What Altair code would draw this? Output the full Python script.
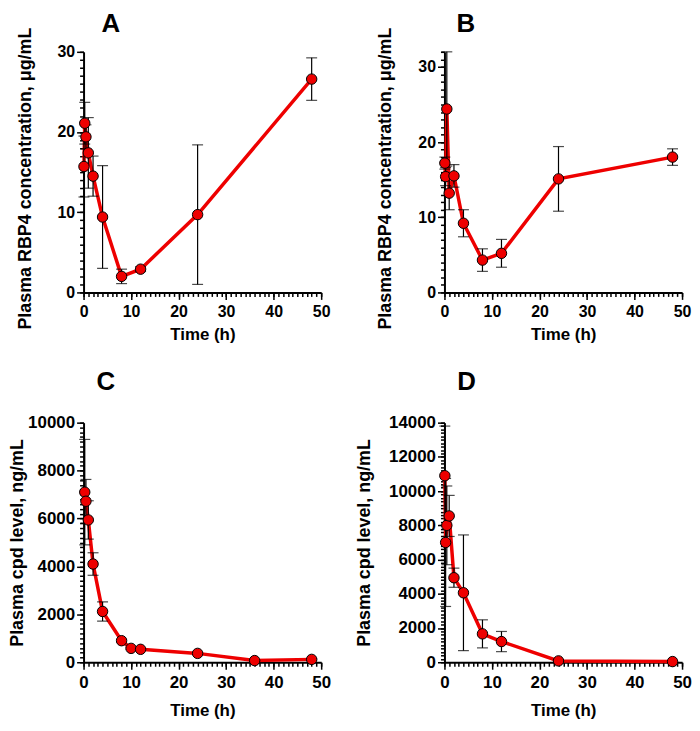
import altair as alt
import pandas as pd

RED = "#EE0000"
FONT = "Liberation Sans"

# Panel A: plasma RBP4 (ug/mL)
A_time = [0.083, 0.25, 0.5, 1, 2, 4, 8, 12, 24, 48]
A_mean = [15.7, 21.1, 19.4, 17.4, 14.5, 9.4, 2.0, 2.9, 9.7, 26.6]
A_err = [3.8, 2.6, 1.5, 4.4, 2.5, 6.4, 0.9, 0.3, 8.7, 2.65]

# Panel B: plasma RBP4 (ug/mL)
B_time = [0.083, 0.25, 0.5, 1, 2, 4, 8, 12, 24, 48]
B_mean = [17.2, 15.4, 24.4, 13.2, 15.5, 9.2, 4.3, 5.2, 15.1, 18.0]
B_err = [0.8, 1.2, 7.6, 2.2, 1.5, 1.8, 1.5, 1.85, 4.3, 1.1]

# Panel C: plasma compound level (ng/mL)
C_time = [0.25, 0.5, 1, 2, 4, 8, 10, 12, 24, 36, 48]
C_mean = [7100, 6720, 5940, 4100, 2120, 900, 580, 540, 370, 70, 120]
C_err = [2200, 910, 800, 470, 400, 60, 40, 40, 50, 20, 30]

# Panel D: plasma compound level (ng/mL)
D_time = [0.083, 0.25, 0.5, 1, 2, 4, 8, 12, 24, 48]
D_mean = [10900, 7000, 8000, 8550, 4940, 4060, 1660, 1210, 80, 40]
D_err = [2900, 3740, 2300, 1200, 560, 3380, 820, 590, 50, 20]

X_MAJOR = [0, 10, 20, 30, 40, 50]
W = 239


def panel(letter, times, means, errs, ymax, ymajor, yminor, ytitle, height,
          label_size, label_pad_x, title_pad_x, title_pad_y, ytitle_shift,
          title_dx, title_offset):
    df = pd.DataFrame({
        "t": times,
        "m": means,
        "lo": [m - e for m, e in zip(means, errs)],
        "hi": [m + e for m, e in zip(means, errs)],
    })
    xs = alt.Scale(domain=[0, 50], nice=False, zero=False)
    ys = alt.Scale(domain=[0, ymax], nice=False)
    xminor = list(range(0, 51))
    ymajor_vals = list(range(0, ymax + 1, ymajor))
    yminor_vals = list(range(0, ymax + 1, yminor))

    xaxis = alt.Axis(values=X_MAJOR, tickSize=7, labelFontSize=label_size,
                     labelPadding=label_pad_x, labelOverlap=False, labelFlush=False,
                     titleFontSize=17, titlePadding=title_pad_x, grid=False)
    yaxis = alt.Axis(values=ymajor_vals, tickSize=7, labelFontSize=label_size,
                     labelPadding=2, labelOverlap=False, labelFlush=False,
                     titleFontSize=18, titlePadding=title_pad_y,
                     titleY=height / 2 + ytitle_shift, grid=False, format="d")
    xaxis_m = alt.Axis(values=xminor, tickSize=4, labels=False, domain=False,
                       title=None, grid=False, orient="bottom")
    yaxis_m = alt.Axis(values=yminor_vals, tickSize=4, labels=False, domain=False,
                       title=None, grid=False, orient="left")

    base = alt.Chart(df)
    line = base.mark_line(color=RED, strokeWidth=3.5).encode(
        x=alt.X("t:Q", scale=xs, axis=xaxis, title="Time (h)"),
        y=alt.Y("m:Q", scale=ys, axis=yaxis, title=ytitle))
    rule = base.mark_rule(color="black", strokeWidth=1.2).encode(
        x=alt.X("t:Q", scale=xs, axis=xaxis_m),
        y=alt.Y("lo:Q", scale=ys, axis=yaxis_m), y2="hi:Q")
    cap_hi = base.mark_tick(color="black", thickness=1.2, size=11, orient="horizontal").encode(
        x=alt.X("t:Q", scale=xs, axis=None), y=alt.Y("hi:Q", scale=ys, axis=None))
    cap_lo = base.mark_tick(color="black", thickness=1.2, size=11, orient="horizontal").encode(
        x=alt.X("t:Q", scale=xs, axis=None), y=alt.Y("lo:Q", scale=ys, axis=None))
    pts = base.mark_point(shape="circle", filled=True, size=110, fill=RED, color=RED,
                          stroke="black", strokeWidth=1, opacity=1).encode(
        x=alt.X("t:Q", scale=xs, axis=None), y=alt.Y("m:Q", scale=ys, axis=None))
    return alt.layer(line, rule, cap_hi, cap_lo, pts).resolve_axis(
        x="independent", y="independent").properties(
        width=W, height=height,
        title=alt.TitleParams(letter, anchor="start", frame="group", dx=title_dx,
                              offset=title_offset, fontSize=26, fontWeight="bold",
                              font=FONT, color="black"),
    )


pA = panel("A", A_time, A_mean, A_err, 30, 10, 1, "Plasma RBP4 concentration, μg/mL", 242,
           16, 4, 7, 23, 6, 18, -10)
pB = panel("B", B_time, B_mean, B_err, 32, 10, 1, "Plasma RBP4 concentration, μg/mL", 242,
           16, 4, 7, 23, 6, 12, -10)
pC = panel("C", C_time, C_mean, C_err, 10000, 2000, 200, "Plasma cpd level, ng/mL", 241,
           17, 5, 13, 1, 0, 13, 19)
pD = panel("D", D_time, D_mean, D_err, 14000, 2000, 200, "Plasma cpd level, ng/mL", 241,
           17, 5, 13, 15, 0, 13, 19)

chart = alt.concat(pA, pB, pC, pD, columns=2, spacing={"row": 131, "column": 124},
                   bounds="flush").properties(
    padding={"left": 0, "top": 0, "right": 0, "bottom": 0}
).configure_view(stroke=None).configure_axis(
    domainColor="black", domainWidth=2, tickColor="black", tickWidth=1.5,
    labelColor="black", titleColor="black", labelFont=FONT, titleFont=FONT,
    labelFontWeight="bold", titleFontWeight="bold",
)

chart.save("out.html", embed_options={"renderer": "svg", "actions": False})
